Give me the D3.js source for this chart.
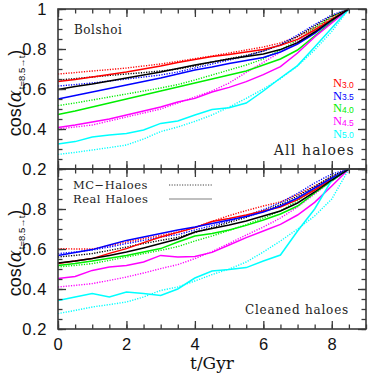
<!DOCTYPE html>
<html>
<head>
<meta charset="utf-8">
<script src="https://cdn.jsdelivr.net/npm/d3@7"></script>
<style>
  body { margin: 0; background: #fff; }
  svg { display: block; }
</style>
</head>
<body>
<svg id="drawing_region"></svg>
<script>
// time since t = 8.5 Gyr, sampled every 0.5 Gyr
const time = [0, 0.5, 1, 1.5, 2, 2.5, 3, 3.5, 4, 4.5, 5, 5.5, 6, 6.5, 7, 7.5, 8, 8.5];

const nNames = ["3.0", "3.5", "4.0", "4.5", "5.0"];

// ---- top panel: all haloes ----
const allReal30 = [.637,.648,.660,.672,.685,.700,.715,.732,.748,.762,.773,.785,.797,.818,.848,.895,.948,1];
const allMC30   = [.675,.682,.690,.697,.705,.715,.725,.738,.752,.765,.780,.795,.810,.830,.862,.905,.955,1];
const allRealBk = [.598,.612,.625,.640,.655,.670,.685,.702,.720,.735,.750,.762,.775,.797,.832,.885,.945,1];
const allMCBk   = [.645,.652,.660,.668,.675,.682,.690,.700,.715,.735,.752,.768,.790,.820,.862,.915,.965,1];
const allReal35 = [.550,.568,.585,.603,.620,.637,.655,.675,.695,.710,.727,.743,.758,.785,.825,.878,.940,1];
const allMC35   = [.615,.622,.630,.640,.650,.660,.670,.685,.705,.725,.745,.765,.790,.822,.870,.922,.970,1];
const allReal40 = [.473,.490,.510,.530,.550,.570,.590,.610,.630,.650,.670,.690,.720,.750,.795,.865,.935,1];
const allMC40   = [.517,.530,.545,.560,.575,.590,.605,.622,.645,.670,.695,.720,.750,.795,.845,.905,.960,1];
const allReal45 = [.407,.420,.435,.450,.470,.490,.510,.535,.553,.585,.608,.637,.672,.712,.780,.860,.930,1];
const allMC45   = [.400,.410,.420,.440,.460,.480,.500,.530,.560,.590,.630,.683,.733,.785,.837,.895,.948,1];
const allReal50 = [.325,.337,.360,.370,.378,.395,.428,.440,.470,.497,.506,.530,.590,.655,.717,.810,.905,1];
const allMC50   = [.273,.283,.295,.307,.320,.350,.387,.410,.438,.470,.510,.553,.600,.652,.715,.795,.888,1];

// ---- bottom panel: cleaned haloes ----
const clnReal30 = [.527,.540,.552,.578,.602,.632,.660,.683,.707,.737,.752,.770,.790,.810,.847,.895,.948,1];
const clnMC30   = [.602,.600,.600,.617,.635,.652,.668,.685,.707,.738,.767,.792,.815,.835,.872,.915,.960,1];
const clnRealBk = [.530,.540,.552,.568,.585,.605,.627,.650,.685,.702,.720,.740,.765,.790,.830,.885,.945,1];
const clnMCBk   = [.560,.568,.577,.593,.610,.627,.643,.658,.683,.707,.733,.758,.790,.823,.865,.912,.965,1];
const clnReal35 = [.568,.582,.597,.620,.643,.660,.677,.695,.710,.727,.745,.763,.785,.815,.855,.905,.955,1];
const clnMC35   = [.577,.585,.595,.610,.627,.643,.660,.672,.695,.717,.740,.766,.797,.832,.878,.930,.975,1];
const clnReal40 = [.518,.528,.540,.554,.568,.585,.602,.635,.665,.678,.695,.718,.745,.775,.815,.880,.940,1];
const clnMC40   = [.510,.518,.527,.543,.560,.577,.593,.612,.640,.665,.693,.722,.755,.790,.842,.902,.955,1];
const clnReal45 = [.452,.463,.493,.510,.518,.535,.568,.560,.563,.583,.620,.657,.690,.723,.770,.833,.915,1];
const clnMC45   = [.410,.418,.427,.443,.460,.480,.502,.522,.552,.587,.628,.670,.710,.755,.810,.875,.940,1];
const clnReal50 = [.343,.360,.377,.360,.385,.377,.368,.400,.455,.490,.497,.507,.540,.570,.690,.800,.945,1];
const clnMC50   = [.277,.293,.310,.322,.335,.360,.393,.410,.440,.472,.500,.535,.585,.640,.700,.765,.850,1];

const xTicks = [0, 2, 4, 6, 8];
const yTicks = [0.2, 0.4, 0.6, 0.8, 1];

// line colours
const colN  = ["#ff0000", "#0000ff", "#00ee00", "#ff00ff", "#00ffff"];
const colBk = "#000000";

const panels = [
  { name: "Bolshoi", label: "All haloes",
    real: [allReal30, allReal35, allReal40, allReal45, allReal50, allRealBk],
    mc:   [allMC30, allMC35, allMC40, allMC45, allMC50, allMCBk] },
  { name: null, label: "Cleaned haloes",
    real: [clnReal30, clnReal35, clnReal40, clnReal45, clnReal50, clnRealBk],
    mc:   [clnMC30, clnMC35, clnMC40, clnMC45, clnMC50, clnMCBk] }
];

const W = 374, H = 374;
const left = 58, right = 366, top0 = 9, panelH = 160;
const frameCol = "#3a3a3a";
const serif = "'DejaVu Serif', 'Liberation Serif', serif";
const sans = "'Liberation Sans', Arial, sans-serif";

const svg = d3.select("#drawing_region").attr("width", W).attr("height", H);

const x = d3.scaleLinear().domain([0, 9]).range([left, right]);
const lineColors = colN.concat([colBk]);

panels.forEach((p, pi) => {
  const y0 = top0 + pi * panelH;
  const y = d3.scaleLinear().domain([0.2, 1]).range([y0 + panelH, y0]);
  const g = svg.append("g");

  const line = d3.line().x((d, i) => x(time[i])).y(d => y(d));

  // dotted MC lines
  g.selectAll("path.mc").data(p.mc).enter().append("path")
    .attr("class", "mc")
    .attr("d", d => line(d))
    .attr("fill", "none")
    .attr("stroke", (d, i) => lineColors[i])
    .attr("stroke-width", 1.4)
    .attr("stroke-dasharray", "1.2,1.4");

  // solid real lines
  g.selectAll("path.real").data(p.real).enter().append("path")
    .attr("class", "real")
    .attr("d", d => line(d))
    .attr("fill", "none")
    .attr("stroke", (d, i) => lineColors[i])
    .attr("stroke-width", 1.5);

  // ticks on all four sides, pointing inward
  const xMinor = d3.range(0, 9.01, 0.5);
  const yMinor = d3.range(0.2, 1.001, 0.05);
  const addAxis = (axis, tr) => {
    const a = g.append("g").attr("transform", tr).call(axis);
    a.select(".domain").remove();
    a.selectAll("line").attr("stroke", frameCol).attr("stroke-width", 1.3);
    return a;
  };
  addAxis(d3.axisBottom(x).tickValues(xMinor).tickSize(-4.5).tickFormat(""), `translate(0,${y0 + panelH})`);
  addAxis(d3.axisTop(x).tickValues(xMinor).tickSize(-4.5).tickFormat(""), `translate(0,${y0})`);
  addAxis(d3.axisLeft(y).tickValues(yMinor).tickSize(-4.5).tickFormat(""), `translate(${left},0)`);
  addAxis(d3.axisRight(y).tickValues(yMinor).tickSize(-4.5).tickFormat(""), `translate(${right},0)`);
  addAxis(d3.axisTop(x).tickValues(xTicks).tickSize(-8).tickFormat(""), `translate(0,${y0})`);
  addAxis(d3.axisRight(y).tickValues(yTicks).tickSize(-8).tickFormat(""), `translate(${right},0)`);

  const xa = addAxis(d3.axisBottom(x).tickValues(xTicks).tickSize(-8).tickPadding(9)
      .tickFormat(pi === 1 ? d3.format("d") : ""), `translate(0,${y0 + panelH})`);
  const ya = addAxis(d3.axisLeft(y).tickValues(pi === 0 ? yTicks : yTicks.slice(0, 4)).tickSize(-8).tickPadding(11)
      .tickFormat(d => d === 1 ? "1" : d3.format(".1f")(d)), `translate(${left},0)`);
  [xa, ya].forEach(a => a.selectAll("text")
    .attr("font-family", sans).attr("font-size", 16.5).attr("fill", "#111").attr("letter-spacing", 0.6));
  ya.selectAll("text").attr("dy", "0.36em");

  // frame
  g.append("rect").attr("x", left).attr("y", y0).attr("width", right - left).attr("height", panelH)
    .attr("fill", "none").attr("stroke", frameCol).attr("stroke-width", 1.6);

  // y label
  const yl = g.append("text")
    .attr("transform", `translate(21,${y0 + panelH / 2 + 4}) rotate(-90)`)
    .attr("text-anchor", "middle").attr("font-size", 18).attr("fill", "#111");
  yl.append("tspan").attr("font-family", sans).text("cos(");
  yl.append("tspan").attr("font-family", serif).attr("font-style", "italic").text("α");
  yl.append("tspan").attr("font-family", sans).attr("font-size", 9.5).attr("dx", 1).attr("dy", 4).text("t=8.5→t");
  yl.append("tspan").attr("font-family", sans).attr("dy", -4).text(")");

  // panel texts
  if (p.name) {
    g.append("text").attr("x", 74).attr("y", y0 + 25).attr("font-family", serif)
      .attr("font-size", 12).attr("letter-spacing", 0.5).attr("fill", "#222").text(p.name);
  }
  g.append("text").attr("x", pi === 0 ? 355 : 349).attr("y", y0 + panelH - (pi === 0 ? 14 : 15))
    .attr("text-anchor", "end").attr("font-family", serif)
    .attr("font-size", pi === 0 ? 14 : 12).attr("letter-spacing", pi === 0 ? 1.2 : 0.8)
    .attr("fill", "#222").text(p.label);
});

// N legend
const leg = svg.append("g");
nNames.forEach((n, i) => {
  const t = leg.append("text").attr("x", 333).attr("y", 87 + i * 12.7)
    .attr("fill", colN[i]).attr("font-size", 12.5);
  t.append("tspan").attr("font-family", "'Liberation Serif', serif").text("N");
  t.append("tspan").attr("font-family", sans).attr("font-size", 8.5).attr("dy", 0.5).text(n);
});

// line style legend
const styles = [
  { label: "MC−Haloes", dash: "1.2,1.4", y: 185 },
  { label: "Real Haloes", dash: null, y: 199 }
];
styles.forEach(s => {
  svg.append("text").attr("x", 73).attr("y", s.y + 3.5).attr("font-family", serif)
    .attr("font-size", 11.5).attr("letter-spacing", 0.5).attr("fill", "#222").text(s.label);
  svg.append("line").attr("x1", 169).attr("x2", 212).attr("y1", s.y).attr("y2", s.y)
    .attr("stroke", s.dash ? "#444" : "#aaa").attr("stroke-width", s.dash ? 1 : 1.6)
    .attr("stroke-dasharray", s.dash);
});

// x label
svg.append("text").attr("x", 212).attr("y", 369).attr("text-anchor", "middle")
  .attr("font-family", serif).attr("font-size", 17).attr("fill", "#111").text("t/Gyr");
</script>
</body>
</html>
